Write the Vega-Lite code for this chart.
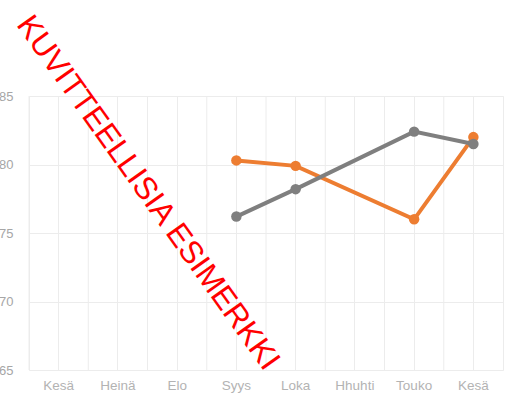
{
  "$schema": "https://vega.github.io/schema/vega-lite/v6.json",
  "autosize": {"type": "none"},
  "width": 474,
  "height": 274,
  "padding": {"left": 29, "top": 96, "right": 3, "bottom": 31},
  "background": "white",
  "config": {
    "view": {"stroke": "#ececec", "strokeWidth": 1},
    "font": "Liberation Sans"
  },
  "datasets": {
    "series": [
      {"kk": 4, "sarja": "A", "arvo": 80.3},
      {"kk": 5, "sarja": "A", "arvo": 79.9},
      {"kk": 7, "sarja": "A", "arvo": 76.0},
      {"kk": 8, "sarja": "A", "arvo": 82.0},
      {"kk": 4, "sarja": "B", "arvo": 76.2},
      {"kk": 5, "sarja": "B", "arvo": 78.2},
      {"kk": 7, "sarja": "B", "arvo": 82.4},
      {"kk": 8, "sarja": "B", "arvo": 81.5}
    ],
    "months": [
      {"kk": 1}, {"kk": 2}, {"kk": 3}, {"kk": 4},
      {"kk": 5}, {"kk": 6}, {"kk": 7}, {"kk": 8}
    ],
    "watermark": [
      {"kk": 2, "arvo": 77.9, "teksti": "KUVITTEELLISIA ESIMERKKI"}
    ]
  },
  "layer": [
    {
      "data": {"name": "months"},
      "mark": {"type": "rule", "color": "#ececec", "strokeWidth": 1},
      "encoding": {
        "x": {"field": "kk", "type": "ordinal", "bandPosition": 0}
      }
    },
    {
      "data": {"name": "series"},
      "mark": {"type": "line", "strokeWidth": 4, "point": {"size": 110, "filled": true, "opacity": 1}},
      "encoding": {
        "x": {
          "field": "kk",
          "type": "ordinal",
          "scale": {"domain": [1, 2, 3, 4, 5, 6, 7, 8], "paddingInner": 0, "paddingOuter": 0},
          "axis": {
            "title": null,
            "domain": false,
            "ticks": false,
            "grid": true,
            "gridColor": "#ececec",
            "bandPosition": 0.5,
            "labelAngle": 0,
            "labelAlign": "center",
            "labelPadding": 15,
            "labelFontSize": 13.5,
            "labelColor": "#b3b3b3",
            "labelExpr": "['Kesä','Heinä','Elo','Syys','Loka','Hhuhti','Touko','Kesä'][datum.value-1]"
          }
        },
        "y": {
          "field": "arvo",
          "type": "quantitative",
          "scale": {"domain": [65, 85], "nice": false, "zero": false},
          "axis": {
            "title": null,
            "domain": false,
            "ticks": false,
            "grid": true,
            "gridColor": "#ececec",
            "values": [65, 67.5, 70, 72.5, 75, 77.5, 80, 82.5, 85],
            "labelExpr": "datum.value % 5 == 0 ? datum.label : ''",
            "labelPadding": 16,
            "labelFontSize": 13,
            "labelColor": "#a6a6a6"
          }
        },
        "color": {
          "field": "sarja",
          "type": "nominal",
          "scale": {"domain": ["A", "B"], "range": ["#ED7D31", "#7F7F7F"]},
          "legend": null
        }
      }
    },
    {
      "data": {"name": "watermark"},
      "mark": {"type": "text", "angle": 54.4, "align": "center", "baseline": "middle", "fontSize": 31.5, "font": "Liberation Sans", "color": "#ff0000"},
      "encoding": {
        "x": {"field": "kk", "type": "ordinal", "bandPosition": 1},
        "y": {"field": "arvo", "type": "quantitative"},
        "text": {"field": "teksti"}
      }
    }
  ]
}
